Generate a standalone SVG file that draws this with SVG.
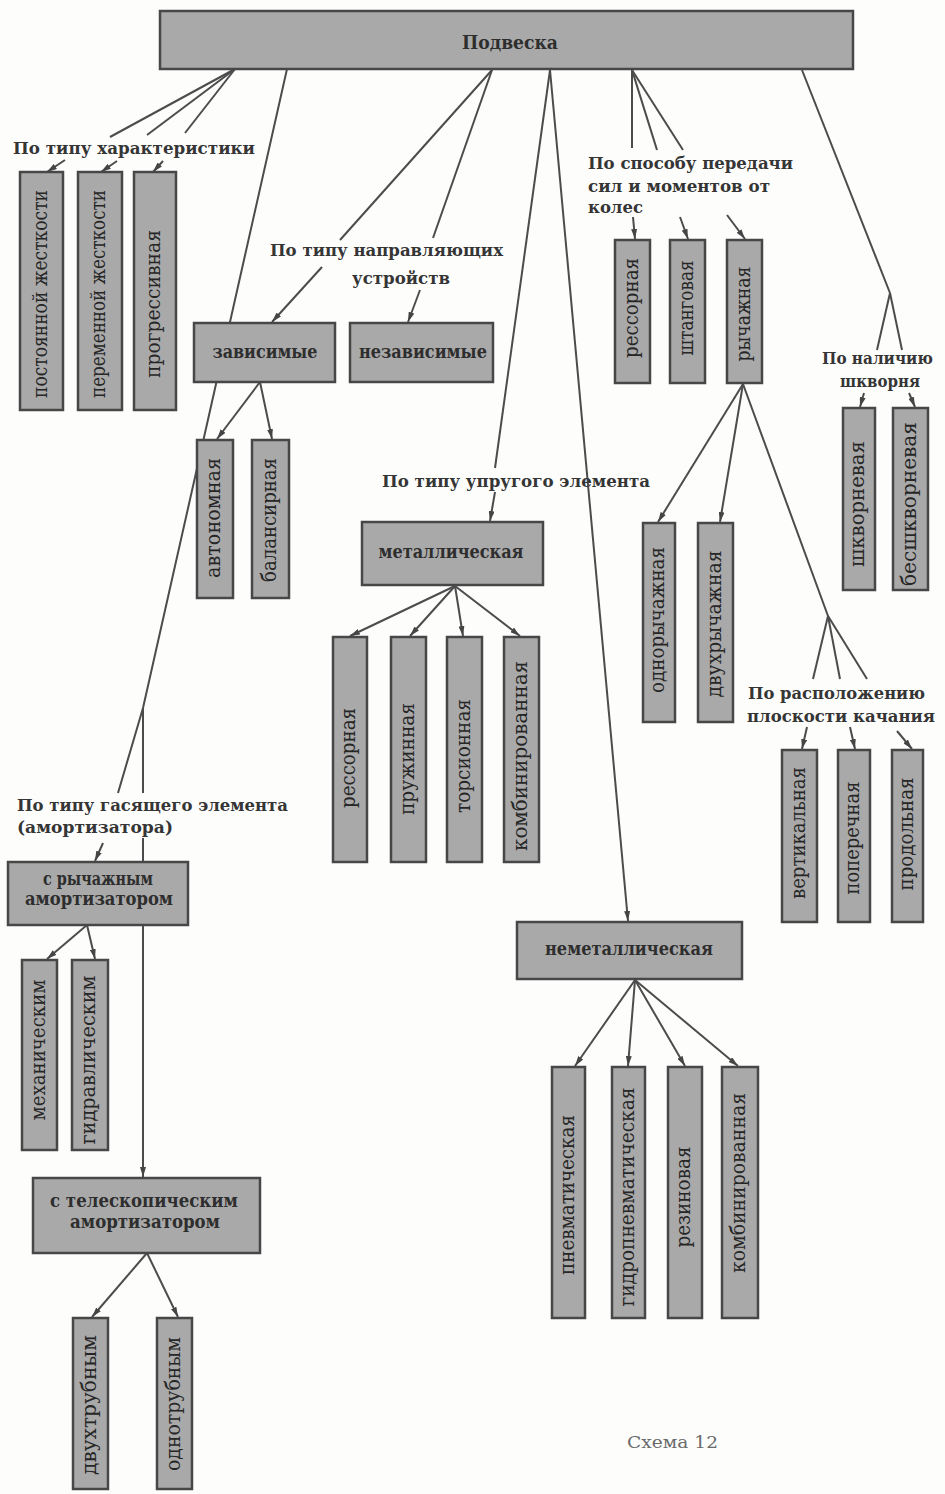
<svg xmlns="http://www.w3.org/2000/svg" width="945" height="1494" viewBox="0 0 945 1494">
<style>
.bg{fill:#fdfdfc}
.box{fill:#a9a9a9;stroke:#474747;stroke-width:2.5}
.ln{stroke:#4c4c4c;stroke-width:2;fill:none;stroke-linejoin:round}
.ar{marker-end:url(#ah)}
.lbl{font-family:"DejaVu Serif","Liberation Serif",serif;font-weight:bold;font-size:17px;fill:#353535}
.bt{font-family:"DejaVu Serif","Liberation Serif",serif;font-weight:bold;font-size:18px;fill:#2e2e2e;text-anchor:middle}
.vt{font-family:"DejaVu Serif","Liberation Serif",serif;font-size:20px;fill:#262626;text-anchor:middle}
.cap{font-family:"DejaVu Serif","Liberation Serif",serif;font-size:16px;fill:#6a6a6a}
</style>
<defs>
<marker id="ah" viewBox="0 0 10 6" refX="10" refY="3" markerWidth="10" markerHeight="6" markerUnits="userSpaceOnUse" orient="auto">
<path d="M0,0 L10,3 L0,6 z" fill="#454545"/>
</marker>
</defs>
<rect class="bg" x="0" y="0" width="945" height="1494"/>

<g id="connectors">
<line class="ln" x1="235" y1="69" x2="110" y2="137"/>
<line class="ln" x1="235" y1="69" x2="147" y2="135"/>
<line class="ln" x1="235" y1="69" x2="185" y2="133"/>
<line class="ln ar" x1="65" y1="160" x2="47" y2="172"/>
<line class="ln ar" x1="117" y1="161" x2="101" y2="172"/>
<line class="ln ar" x1="163" y1="161" x2="153" y2="172"/>
<polyline class="ln" points="287,69 143,708 118,793"/>
<line class="ln" x1="143" y1="708" x2="143" y2="793"/>
<line class="ln ar" x1="143" y1="838" x2="143" y2="1177"/>
<line class="ln ar" x1="103" y1="843" x2="95" y2="861"/>
<line class="ln ar" x1="87" y1="925" x2="47" y2="959"/>
<line class="ln ar" x1="87" y1="925" x2="95" y2="959"/>
<line class="ln ar" x1="147" y1="1253" x2="92" y2="1317"/>
<line class="ln ar" x1="147" y1="1253" x2="178" y2="1317"/>
<line class="ln" x1="492" y1="70" x2="340" y2="240"/>
<line class="ln" x1="492" y1="70" x2="433" y2="238"/>
<line class="ln ar" x1="322" y1="267" x2="272" y2="322"/>
<line class="ln ar" x1="420" y1="290" x2="408" y2="322"/>
<line class="ln ar" x1="260" y1="382" x2="217" y2="439"/>
<line class="ln ar" x1="260" y1="382" x2="272" y2="439"/>
<line class="ln" x1="550" y1="70" x2="495" y2="468"/>
<line class="ln ar" x1="495" y1="492" x2="490" y2="521"/>
<line class="ln ar" x1="455" y1="586" x2="350" y2="636"/>
<line class="ln ar" x1="455" y1="586" x2="410" y2="636"/>
<line class="ln ar" x1="455" y1="586" x2="463" y2="636"/>
<line class="ln ar" x1="455" y1="586" x2="520" y2="636"/>
<line class="ln ar" x1="550" y1="70" x2="628" y2="921"/>
<line class="ln ar" x1="635" y1="980" x2="575" y2="1066"/>
<line class="ln ar" x1="635" y1="980" x2="628" y2="1066"/>
<line class="ln ar" x1="635" y1="980" x2="685" y2="1066"/>
<line class="ln ar" x1="635" y1="980" x2="738" y2="1066"/>
<line class="ln" x1="632" y1="70" x2="632" y2="148"/>
<line class="ln" x1="632" y1="70" x2="657" y2="150"/>
<line class="ln" x1="632" y1="70" x2="683" y2="150"/>
<line class="ln ar" x1="633" y1="217" x2="635" y2="239"/>
<line class="ln ar" x1="680" y1="217" x2="688" y2="239"/>
<line class="ln ar" x1="727" y1="215" x2="745" y2="239"/>
<line class="ln ar" x1="743" y1="384" x2="658" y2="522"/>
<line class="ln ar" x1="743" y1="384" x2="720" y2="522"/>
<polyline class="ln" points="743,384 828,616 867,679"/>
<line class="ln" x1="828" y1="616" x2="813" y2="679"/>
<line class="ln" x1="828" y1="616" x2="840" y2="679"/>
<line class="ln ar" x1="807" y1="727" x2="802" y2="749"/>
<line class="ln ar" x1="850" y1="727" x2="855" y2="749"/>
<line class="ln ar" x1="897" y1="731" x2="912" y2="749"/>
<line class="ln" x1="802" y1="70" x2="890" y2="293"/>
<line class="ln" x1="890" y1="293" x2="877" y2="350"/>
<line class="ln" x1="890" y1="293" x2="902" y2="350"/>
<line class="ln ar" x1="864" y1="393" x2="860" y2="407"/>
<line class="ln ar" x1="909" y1="393" x2="915" y2="407"/>
</g>

<g id="labels">
<text class="lbl" x="13" y="154" textLength="242" lengthAdjust="spacingAndGlyphs">По типу характеристики</text>
<text class="lbl" x="270" y="256" textLength="233" lengthAdjust="spacingAndGlyphs">По типу направляющих</text>
<text class="lbl" x="352" y="284" textLength="98" lengthAdjust="spacingAndGlyphs">устройств</text>
<text class="lbl" x="588" y="169" textLength="205" lengthAdjust="spacingAndGlyphs">По способу передачи</text>
<text class="lbl" x="588" y="192" textLength="182" lengthAdjust="spacingAndGlyphs">сил и моментов от</text>
<text class="lbl" x="588" y="213" textLength="55" lengthAdjust="spacingAndGlyphs">колес</text>
<text class="lbl" x="822" y="364" textLength="111" lengthAdjust="spacingAndGlyphs">По наличию</text>
<text class="lbl" x="840" y="387" textLength="80" lengthAdjust="spacingAndGlyphs">шкворня</text>
<text class="lbl" x="382" y="487" textLength="268" lengthAdjust="spacingAndGlyphs">По типу упругого элемента</text>
<text class="lbl" x="748" y="699" textLength="177" lengthAdjust="spacingAndGlyphs">По расположению</text>
<text class="lbl" x="747" y="722" textLength="188" lengthAdjust="spacingAndGlyphs">плоскости качания</text>
<text class="lbl" x="17" y="811" textLength="271" lengthAdjust="spacingAndGlyphs">По типу гасящего элемента</text>
<text class="lbl" x="17" y="833" textLength="156" lengthAdjust="spacingAndGlyphs">(амортизатора)</text>
<text class="cap" x="627" y="1448" textLength="91" lengthAdjust="spacingAndGlyphs">Схема 12</text>
</g>

<g id="n-podveska"><rect class="box" x="160" y="11" width="693" height="58"/><text class="bt" x="510" y="49" textLength="96" lengthAdjust="spacingAndGlyphs">Подвеска</text></g>

<g id="n-postoyannoy"><rect class="box" x="20" y="172" width="43" height="238"/><text class="vt" transform="translate(41.5,294) rotate(-90)" y="5" textLength="208" lengthAdjust="spacingAndGlyphs">постоянной жесткости</text></g>
<g id="n-peremennoy"><rect class="box" x="78" y="172" width="44" height="238"/><text class="vt" transform="translate(100,294) rotate(-90)" y="5" textLength="208" lengthAdjust="spacingAndGlyphs">переменной жесткости</text></g>
<g id="n-progressivnaya"><rect class="box" x="134" y="172" width="42" height="238"/><text class="vt" transform="translate(155,304) rotate(-90)" y="5" textLength="148" lengthAdjust="spacingAndGlyphs">прогрессивная</text></g>

<g id="n-zavisimye"><rect class="box" x="194" y="323" width="141" height="59"/><text class="bt" x="265" y="358" textLength="105" lengthAdjust="spacingAndGlyphs">зависимые</text></g>
<g id="n-nezavisimye"><rect class="box" x="350" y="323" width="143" height="59"/><text class="bt" x="423" y="358" textLength="128" lengthAdjust="spacingAndGlyphs">независимые</text></g>
<g id="n-avtonomnaya"><rect class="box" x="197" y="440" width="36" height="158"/><text class="vt" transform="translate(215,518) rotate(-90)" y="5" textLength="120" lengthAdjust="spacingAndGlyphs">автономная</text></g>
<g id="n-balansirnaya"><rect class="box" x="252" y="440" width="37" height="158"/><text class="vt" transform="translate(270.5,520) rotate(-90)" y="5" textLength="124" lengthAdjust="spacingAndGlyphs">балансирная</text></g>

<g id="n-metall"><rect class="box" x="362" y="522" width="181" height="63"/><text class="bt" x="451" y="558" textLength="145" lengthAdjust="spacingAndGlyphs">металлическая</text></g>
<g id="n-m-ressornaya"><rect class="box" x="333" y="637" width="34" height="225"/><text class="vt" transform="translate(350,758) rotate(-90)" y="5" textLength="100" lengthAdjust="spacingAndGlyphs">рессорная</text></g>
<g id="n-m-pruzhinnaya"><rect class="box" x="391" y="637" width="35" height="225"/><text class="vt" transform="translate(408.5,759) rotate(-90)" y="5" textLength="112" lengthAdjust="spacingAndGlyphs">пружинная</text></g>
<g id="n-m-torsionnaya"><rect class="box" x="447" y="637" width="35" height="225"/><text class="vt" transform="translate(464.5,756) rotate(-90)" y="5" textLength="114" lengthAdjust="spacingAndGlyphs">торсионная</text></g>
<g id="n-m-kombinir"><rect class="box" x="504" y="637" width="35" height="225"/><text class="vt" transform="translate(521.5,756) rotate(-90)" y="5" textLength="190" lengthAdjust="spacingAndGlyphs">комбинированная</text></g>

<g id="n-nemetall"><rect class="box" x="517" y="922" width="225" height="57"/><text class="bt" x="629" y="955" textLength="168" lengthAdjust="spacingAndGlyphs">неметаллическая</text></g>
<g id="n-pnevmat"><rect class="box" x="552" y="1067" width="33" height="251"/><text class="vt" transform="translate(568.5,1195) rotate(-90)" y="5" textLength="160" lengthAdjust="spacingAndGlyphs">пневматическая</text></g>
<g id="n-gidropnevmat"><rect class="box" x="612" y="1067" width="33" height="251"/><text class="vt" transform="translate(628.5,1197) rotate(-90)" y="5" textLength="219" lengthAdjust="spacingAndGlyphs">гидропневматическая</text></g>
<g id="n-rezinovaya"><rect class="box" x="668" y="1067" width="34" height="251"/><text class="vt" transform="translate(685,1197) rotate(-90)" y="5" textLength="101" lengthAdjust="spacingAndGlyphs">резиновая</text></g>
<g id="n-n-kombinir"><rect class="box" x="722" y="1067" width="36" height="251"/><text class="vt" transform="translate(740,1183) rotate(-90)" y="5" textLength="180" lengthAdjust="spacingAndGlyphs">комбинированная</text></g>

<g id="n-r-ressornaya"><rect class="box" x="615" y="240" width="35" height="143"/><text class="vt" transform="translate(632.5,308) rotate(-90)" y="5" textLength="100" lengthAdjust="spacingAndGlyphs">рессорная</text></g>
<g id="n-shtangovaya"><rect class="box" x="670" y="240" width="35" height="143"/><text class="vt" transform="translate(687.5,308) rotate(-90)" y="5" textLength="95" lengthAdjust="spacingAndGlyphs">штанговая</text></g>
<g id="n-rychazhnaya"><rect class="box" x="727" y="240" width="35" height="143"/><text class="vt" transform="translate(744.5,314) rotate(-90)" y="5" textLength="95" lengthAdjust="spacingAndGlyphs">рычажная</text></g>

<g id="n-odnorych"><rect class="box" x="643" y="523" width="32" height="199"/><text class="vt" transform="translate(659,620) rotate(-90)" y="5" textLength="146" lengthAdjust="spacingAndGlyphs">однорычажная</text></g>
<g id="n-dvuhrych"><rect class="box" x="698" y="523" width="35" height="199"/><text class="vt" transform="translate(715.5,624) rotate(-90)" y="5" textLength="147" lengthAdjust="spacingAndGlyphs">двухрычажная</text></g>

<g id="n-vertikal"><rect class="box" x="782" y="750" width="35" height="172"/><text class="vt" transform="translate(799.5,833) rotate(-90)" y="5" textLength="132" lengthAdjust="spacingAndGlyphs">вертикальная</text></g>
<g id="n-poperech"><rect class="box" x="838" y="750" width="32" height="172"/><text class="vt" transform="translate(854,838) rotate(-90)" y="5" textLength="113" lengthAdjust="spacingAndGlyphs">поперечная</text></g>
<g id="n-prodol"><rect class="box" x="892" y="750" width="31" height="172"/><text class="vt" transform="translate(907.5,834) rotate(-90)" y="5" textLength="113" lengthAdjust="spacingAndGlyphs">продольная</text></g>

<g id="n-shkvorn"><rect class="box" x="843" y="408" width="32" height="182"/><text class="vt" transform="translate(859,504) rotate(-90)" y="5" textLength="126" lengthAdjust="spacingAndGlyphs">шкворневая</text></g>
<g id="n-besshkvorn"><rect class="box" x="893" y="408" width="35" height="182"/><text class="vt" transform="translate(910.5,504) rotate(-90)" y="5" textLength="164" lengthAdjust="spacingAndGlyphs">бесшкворневая</text></g>

<g id="n-rych-amort"><rect class="box" x="8" y="862" width="180" height="63"/><text class="bt" x="98" y="885" textLength="110" lengthAdjust="spacingAndGlyphs">с рычажным</text><text class="bt" x="99" y="905" textLength="148" lengthAdjust="spacingAndGlyphs">амортизатором</text></g>
<g id="n-mehan"><rect class="box" x="22" y="960" width="35" height="190"/><text class="vt" transform="translate(39.5,1050) rotate(-90)" y="5" textLength="141" lengthAdjust="spacingAndGlyphs">механическим</text></g>
<g id="n-gidravl"><rect class="box" x="72" y="960" width="36" height="190"/><text class="vt" transform="translate(90,1060) rotate(-90)" y="5" textLength="169" lengthAdjust="spacingAndGlyphs">гидравлическим</text></g>

<g id="n-teleskop"><rect class="box" x="33" y="1178" width="227" height="75"/><text class="bt" x="144" y="1207" textLength="188" lengthAdjust="spacingAndGlyphs">с телескопическим</text><text class="bt" x="145" y="1228" textLength="150" lengthAdjust="spacingAndGlyphs">амортизатором</text></g>
<g id="n-dvuhtrub"><rect class="box" x="73" y="1318" width="35" height="171"/><text class="vt" transform="translate(90.5,1405) rotate(-90)" y="5" textLength="140" lengthAdjust="spacingAndGlyphs">двухтрубным</text></g>
<g id="n-odnotrub"><rect class="box" x="157" y="1318" width="35" height="171"/><text class="vt" transform="translate(174.5,1404) rotate(-90)" y="5" textLength="134" lengthAdjust="spacingAndGlyphs">однотрубным</text></g>
</svg>
